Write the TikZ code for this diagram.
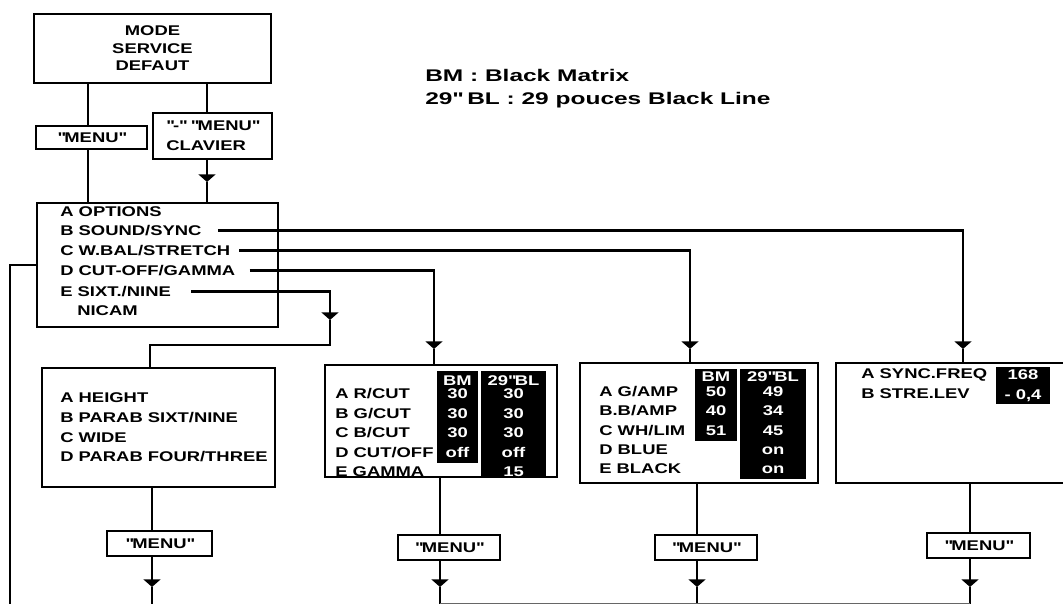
\documentclass[tikz,border=0pt]{standalone}
\usepackage{fontspec}
\setmainfont{Liberation Sans}[FakeStretch=1.31]
\newfontfamily\legendfamily{Liberation Sans}[FakeStretch=1.45]
\usetikzlibrary{arrows.meta,positioning,calc}

\newcommand{\pxu}{0.025cm}
\newcommand{\qt}{\textquotedbl}
\tikzset{
  box/.style={draw, line width=1.5pt, inner sep=0pt, fill=white,
    font=\fontsize{10}{12.4}\selectfont\bfseries},
  txt/.style={anchor=mid west, inner sep=0pt, font=\fontsize{10}{12}\selectfont\bfseries},
  val/.style={anchor=mid, inner sep=0pt, text=white, font=\fontsize{10}{12}\selectfont\bfseries},
  link/.style={line width=1.9pt},
  tip/.style={link, -{Triangle[width=0.42cm, length=0.19cm]}},
  legend/.style={anchor=mid west, inner sep=0pt, font=\legendfamily\fontsize{12}{14}\selectfont\bfseries}
}

\begin{document}
\begin{tikzpicture}[x=0.025cm, y=-0.025cm]
  \useasboundingbox (0,0) rectangle (1063,604);

  % top boxes
  \node[box, minimum width=237*\pxu, minimum height=69*\pxu, align=center] (mode) at (152.5,48.5) {MODE\\SERVICE\\DEFAUT};
  \node[box, minimum width=111*\pxu, minimum height=23*\pxu] (menuL) at (91.5,137.5) {\qt MENU\qt};
  \node[box, minimum width=119*\pxu, minimum height=46*\pxu, align=left,
    font=\fontsize{10}{14}\selectfont\bfseries] (clav) at (212.5,136) {\qt-\qt\ \qt MENU\qt\\CLAVIER};
  \node[box, minimum width=241*\pxu, minimum height=124*\pxu] (opts) at (157.5,265) {};

  \node[legend] (legBM) at (425,78) {BM : Black Matrix};
  \node[legend] (legBL) at (425,101) {29\qt\ BL : 29 pouces Black Line};

  \node[txt] (optA) at (60,213) {A OPTIONS};
  \node[txt] (optB) at (60,232) {B SOUND/SYNC};
  \node[txt] (optC) at (60,252) {C W.BAL/STRETCH};
  \node[txt] (optD) at (60,272) {D CUT-OFF/GAMMA};
  \node[txt] (optE) at (60,293) {E SIXT./NINE};
  \node[txt] (optF) at (77,312) {NICAM};

  % second row
  \node[box, minimum width=233*\pxu, minimum height=119*\pxu] (sixt) at (158.5,427.5) {};
  \node[box, minimum width=232*\pxu, minimum height=112*\pxu] (cut) at (441,421) {};
  \node[box, minimum width=238*\pxu, minimum height=120*\pxu] (wbal) at (699,423) {};
  \node[box, minimum width=239*\pxu, minimum height=120*\pxu] (sync) at (955.5,423) {};

  \node[txt] (sixtA) at (60,399) {A HEIGHT};
  \node[txt] (sixtB) at (60,419) {B PARAB SIXT/NINE};
  \node[txt] (sixtC) at (60,439) {C WIDE};
  \node[txt] (sixtD) at (60,458) {D PARAB FOUR/THREE};

  \fill (437,371) rectangle (478,463);
  \fill (481,371) rectangle (546,477);
  \node[val] (cutBM) at (457.5,382) {BM};
  \node[val] (cutBL) at (513.5,382) {29\qt BL};
  \node[txt] (cutA) at (335,395) {A R/CUT};
  \node[txt] (cutB) at (335,414.5) {B G/CUT};
  \node[txt] (cutC) at (335,434) {C B/CUT};
  \node[txt] (cutD) at (335,453.5) {D CUT/OFF};
  \node[txt] (cutE) at (335,473) {E GAMMA};
  \node[val] (cutA1) at (457.5,395) {30};
  \node[val] (cutB1) at (457.5,414.5) {30};
  \node[val] (cutC1) at (457.5,434) {30};
  \node[val] (cutD1) at (457.5,453.5) {off};
  \node[val] (cutA2) at (513.5,395) {30};
  \node[val] (cutB2) at (513.5,414.5) {30};
  \node[val] (cutC2) at (513.5,434) {30};
  \node[val] (cutD2) at (513.5,453.5) {off};
  \node[val] (cutE2) at (513.5,473) {15};

  \fill (695,369) rectangle (737,441);
  \fill (740,369) rectangle (806,479);
  \node[val] (wbalBM) at (716,378) {BM};
  \node[val] (wbalBL) at (773,378) {29\qt BL};
  \node[txt] (wbalA) at (599,393) {A G/AMP};
  \node[txt] (wbalB) at (599,412) {B.B/AMP};
  \node[txt] (wbalC) at (599,432) {C WH/LIM};
  \node[txt] (wbalD) at (599,451) {D BLUE};
  \node[txt] (wbalE) at (599,470) {E BLACK};
  \node[val] (wbalA1) at (716,393) {50};
  \node[val] (wbalB1) at (716,412) {40};
  \node[val] (wbalC1) at (716,432) {51};
  \node[val] (wbalA2) at (773,393) {49};
  \node[val] (wbalB2) at (773,412) {34};
  \node[val] (wbalC2) at (773,432) {45};
  \node[val] (wbalD2) at (773,451) {on};
  \node[val] (wbalE2) at (773,470) {on};

  \fill (996,367) rectangle (1050,404);
  \node[txt] (syncA) at (861,375) {A SYNC.FREQ};
  \node[txt] (syncB) at (861,395) {B STRE.LEV};
  \node[val] (syncA1) at (1023,376) {168};
  \node[val] (syncB1) at (1023,396) {- 0,4};

  % bottom menus
  \node[box, minimum width=105*\pxu, minimum height=25*\pxu] (menu1) at (159.5,543.5) {\qt MENU\qt};
  \node[box, minimum width=102*\pxu, minimum height=25*\pxu] (menu2) at (449,547.5) {\qt MENU\qt};
  \node[box, minimum width=102*\pxu, minimum height=25*\pxu] (menu3) at (706,547.5) {\qt MENU\qt};
  \node[box, minimum width=103*\pxu, minimum height=25*\pxu] (menu4) at (978.5,545.5) {\qt MENU\qt};

  % connectors
  \coordinate (colL) at (88,0);
  \coordinate (colR) at (207,0);
  \coordinate (arrClav) at (207,182);
  \coordinate (arrE) at (330,320);
  \coordinate (turnE) at (150,345);
  \coordinate (arrD) at (434,349);
  \coordinate (arrC) at (690,349);
  \coordinate (arrB) at (963,349);
  \coordinate (loop) at (10,604);
  \coordinate (base) at (0,603);

  \draw[link] (mode.south -| colL) -- (menuL.north -| colL);
  \draw[link] (menuL.south -| colL) -- (opts.north -| colL);
  \draw[link] (mode.south -| colR) -- (clav.north -| colR);
  \draw[tip] (clav.south -| colR) -- (arrClav);
  \draw[link] (arrClav) -- (opts.north -| arrClav);
  \draw[link] (opts.west) -| (loop);

  \draw[tip, shorten <=0.4cm] (optB.east) -| (arrB);
  \draw[link] (arrB) -- (sync.north -| arrB);
  \draw[tip, shorten <=0.22cm] (optC.east) -| (arrC);
  \draw[link] (arrC) -- (wbal.north -| arrC);
  \draw[tip, shorten <=0.35cm] (optD.east) -| (arrD);
  \draw[link] (arrD) -- (cut.north -| arrD);
  \draw[tip, shorten <=0.5cm] (optE.east) -| (arrE);
  \draw[link] (arrE) |- (turnE) -- (sixt.north -| turnE);

  \coordinate (out1) at (152,587);
  \coordinate (out2) at (440,587);
  \coordinate (out3) at (697,587);
  \coordinate (out4) at (970,587);
  \foreach \b/\m/\o in {sixt/menu1/out1, cut/menu2/out2, wbal/menu3/out3, sync/menu4/out4} {
    \draw[link] (\b.south -| \o) -- (\m.north -| \o);
    \draw[tip] (\m.south -| \o) -- (\o);
    \draw[link] (\o) -- ++(0,17);
  }
  \draw[line width=0.6pt, black!60] (out2 |- base) -- (out4 |- base);
\end{tikzpicture}
\end{document}
